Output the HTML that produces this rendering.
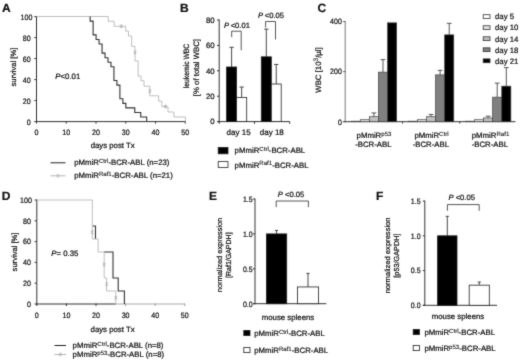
<!DOCTYPE html>
<html lang="en">
<head>
<meta charset="utf-8">
<title>Figure</title>
<style>
html,body{margin:0;padding:0;background:#fff;}
body{width:520px;height:363px;overflow:hidden;}
svg{display:block;}
svg text{font-family:"Liberation Sans",Arial,Helvetica,sans-serif;font-size:7.8px;fill:#111;stroke:#111;stroke-width:0.22px;text-rendering:geometricPrecision;}
</style>
</head>
<body>
<svg width="520" height="363" viewBox="0 0 520 363">
<defs>
<filter id="soft" x="0" y="0" width="100%" height="100%" color-interpolation-filters="sRGB">
<feConvolveMatrix order="3" kernelMatrix="0.025 0.08 0.025 0.08 0.58 0.08 0.025 0.08 0.025" edgeMode="duplicate" preserveAlpha="true"/>
</filter>
</defs>
<g filter="url(#soft)">
<rect x="0" y="0" width="520" height="363" fill="#ffffff"/>
<line x1="36.50" y1="16.10" x2="36.50" y2="122.10" stroke="#333" stroke-width="1"/>
<line x1="36.50" y1="121.60" x2="185.25" y2="121.60" stroke="#333" stroke-width="1"/>
<line x1="34.30" y1="121.60" x2="36.50" y2="121.60" stroke="#333" stroke-width="1"/>
<text transform="translate(30.70 124.85) scale(0.91 1)" text-anchor="end">0</text>
<line x1="34.30" y1="100.60" x2="36.50" y2="100.60" stroke="#333" stroke-width="1"/>
<text transform="translate(30.70 103.85) scale(0.91 1)" text-anchor="end">20</text>
<line x1="34.30" y1="79.60" x2="36.50" y2="79.60" stroke="#333" stroke-width="1"/>
<text transform="translate(30.70 82.85) scale(0.91 1)" text-anchor="end">40</text>
<line x1="34.30" y1="58.60" x2="36.50" y2="58.60" stroke="#333" stroke-width="1"/>
<text transform="translate(30.70 61.85) scale(0.91 1)" text-anchor="end">60</text>
<line x1="34.30" y1="37.60" x2="36.50" y2="37.60" stroke="#333" stroke-width="1"/>
<text transform="translate(30.70 40.85) scale(0.91 1)" text-anchor="end">80</text>
<line x1="34.30" y1="16.60" x2="36.50" y2="16.60" stroke="#333" stroke-width="1"/>
<text transform="translate(32.40 19.85) scale(0.91 1)" text-anchor="end">100</text>
<line x1="36.50" y1="121.10" x2="36.50" y2="123.60" stroke="#333" stroke-width="1"/>
<text transform="translate(36.50 135.20) scale(0.91 1)" text-anchor="middle">0</text>
<line x1="66.25" y1="121.10" x2="66.25" y2="123.60" stroke="#333" stroke-width="1"/>
<text transform="translate(66.25 135.20) scale(0.91 1)" text-anchor="middle">10</text>
<line x1="96.00" y1="121.10" x2="96.00" y2="123.60" stroke="#333" stroke-width="1"/>
<text transform="translate(96.00 135.20) scale(0.91 1)" text-anchor="middle">20</text>
<line x1="125.75" y1="121.10" x2="125.75" y2="123.60" stroke="#333" stroke-width="1"/>
<text transform="translate(125.75 135.20) scale(0.91 1)" text-anchor="middle">30</text>
<line x1="155.50" y1="121.10" x2="155.50" y2="123.60" stroke="#333" stroke-width="1"/>
<text transform="translate(155.50 135.20) scale(0.91 1)" text-anchor="middle">40</text>
<line x1="185.25" y1="121.10" x2="185.25" y2="123.60" stroke="#333" stroke-width="1"/>
<text transform="translate(185.25 135.20) scale(0.91 1)" text-anchor="middle">50</text>
<text x="112.66" y="147.80" text-anchor="middle">days post Tx</text>
<text transform="translate(16.20 67.10) rotate(-90)" text-anchor="middle" style="font-size:7.6px">survival [%]</text>
<text x="2.10" y="11.80" style="font-size:12px" font-weight="bold" fill="#000">A</text>
<text x="55.30" y="78.60"><tspan font-style="italic">P</tspan>&lt;0.01</text>
<polyline points="36.50,16.50 108.30,16.50 108.30,21.30 114.10,21.30 114.10,26.30 125.70,26.30 125.70,31.10 128.50,31.10 128.50,36.00 131.70,36.00 131.70,46.40 135.00,46.40 135.00,61.00 138.10,61.00 138.10,76.10 141.00,76.10 141.00,80.70 144.00,80.70 144.00,86.20 149.80,86.20 149.80,95.80 158.70,95.80 158.70,101.20 161.90,101.20 161.90,106.60 168.00,106.60 168.00,112.00 173.90,112.00 173.90,117.00 185.40,117.00 185.40,121.60" fill="none" stroke="#b4b4b4" stroke-width="0.85" stroke-linejoin="miter"/>
<line x1="120.00" y1="24.70" x2="122.60" y2="27.90" stroke="#b0b0b0" stroke-width="0.8"/>
<line x1="120.00" y1="27.90" x2="122.60" y2="24.70" stroke="#b0b0b0" stroke-width="0.8"/>
<line x1="121.30" y1="24.30" x2="121.30" y2="28.30" stroke="#b0b0b0" stroke-width="0.8"/>
<line x1="133.70" y1="50.90" x2="136.30" y2="54.10" stroke="#b0b0b0" stroke-width="0.8"/>
<line x1="133.70" y1="54.10" x2="136.30" y2="50.90" stroke="#b0b0b0" stroke-width="0.8"/>
<line x1="135.00" y1="50.50" x2="135.00" y2="54.50" stroke="#b0b0b0" stroke-width="0.8"/>
<line x1="148.50" y1="89.40" x2="151.10" y2="92.60" stroke="#b0b0b0" stroke-width="0.8"/>
<line x1="148.50" y1="92.60" x2="151.10" y2="89.40" stroke="#b0b0b0" stroke-width="0.8"/>
<line x1="149.80" y1="89.00" x2="149.80" y2="93.00" stroke="#b0b0b0" stroke-width="0.8"/>
<line x1="164.20" y1="105.00" x2="166.80" y2="108.20" stroke="#b0b0b0" stroke-width="0.8"/>
<line x1="164.20" y1="108.20" x2="166.80" y2="105.00" stroke="#b0b0b0" stroke-width="0.8"/>
<line x1="165.50" y1="104.60" x2="165.50" y2="108.60" stroke="#b0b0b0" stroke-width="0.8"/>
<polyline points="90.15,16.60 90.15,16.60 90.15,21.17 93.12,21.17 93.12,34.86 96.10,34.86 96.10,39.43 99.07,39.43 99.07,43.99 102.05,43.99 102.05,53.12 105.02,53.12 105.02,57.69 108.00,57.69 108.00,62.25 110.97,62.25 110.97,66.82 113.95,66.82 113.95,80.51 116.92,80.51 116.92,85.08 119.90,85.08 119.90,98.77 122.88,98.77 122.88,103.34 125.85,103.34 125.85,107.90 134.78,107.90 134.78,112.47 140.72,112.47 140.72,117.03 146.67,117.03 146.67,121.60" fill="none" stroke="#333" stroke-width="1.1" stroke-linejoin="miter"/>
<line x1="50.50" y1="162.80" x2="65.50" y2="162.80" stroke="#222" stroke-width="1"/>
<text x="74.20" y="165.40">pMmiR<tspan font-size="6.1" stroke-width="0.1" dy="-2.3">Ctrl</tspan><tspan dy="2.3">-BCR-ABL (n=23)</tspan></text>
<line x1="50.50" y1="175.80" x2="65.50" y2="175.80" stroke="#b4b4b4" stroke-width="1"/>
<line x1="56.50" y1="174.30" x2="59.50" y2="177.30" stroke="#b4b4b4" stroke-width="0.7"/>
<line x1="56.50" y1="177.30" x2="59.50" y2="174.30" stroke="#b4b4b4" stroke-width="0.7"/>
<line x1="58.00" y1="173.80" x2="58.00" y2="177.80" stroke="#b4b4b4" stroke-width="0.7"/>
<text x="74.20" y="178.40">pMmiR<tspan font-size="6.1" stroke-width="0.1" dy="-2.3">Raf1</tspan><tspan dy="2.3">-BCR-ABL (n=21)</tspan></text>
<line x1="36.80" y1="199.50" x2="36.80" y2="304.50" stroke="#333" stroke-width="1"/>
<line x1="36.80" y1="304.00" x2="115.83" y2="304.00" stroke="#333" stroke-width="1"/>
<line x1="115.83" y1="304.00" x2="184.80" y2="304.00" stroke="#aaa" stroke-width="1"/>
<line x1="34.60" y1="304.00" x2="36.80" y2="304.00" stroke="#333" stroke-width="1"/>
<text transform="translate(31.00 306.80) scale(0.91 1)" text-anchor="end">0</text>
<line x1="34.60" y1="283.20" x2="36.80" y2="283.20" stroke="#333" stroke-width="1"/>
<text transform="translate(31.00 286.00) scale(0.91 1)" text-anchor="end">20</text>
<line x1="34.60" y1="262.40" x2="36.80" y2="262.40" stroke="#333" stroke-width="1"/>
<text transform="translate(31.00 265.20) scale(0.91 1)" text-anchor="end">40</text>
<line x1="34.60" y1="241.60" x2="36.80" y2="241.60" stroke="#333" stroke-width="1"/>
<text transform="translate(31.00 244.40) scale(0.91 1)" text-anchor="end">60</text>
<line x1="34.60" y1="220.80" x2="36.80" y2="220.80" stroke="#333" stroke-width="1"/>
<text transform="translate(31.00 223.60) scale(0.91 1)" text-anchor="end">80</text>
<line x1="34.60" y1="200.00" x2="36.80" y2="200.00" stroke="#333" stroke-width="1"/>
<text transform="translate(31.90 202.80) scale(0.91 1)" text-anchor="end">100</text>
<line x1="36.80" y1="303.50" x2="36.80" y2="306.00" stroke="#333" stroke-width="1"/>
<text transform="translate(36.80 318.00) scale(0.91 1)" text-anchor="middle">0</text>
<line x1="66.40" y1="303.50" x2="66.40" y2="306.00" stroke="#333" stroke-width="1"/>
<text transform="translate(66.40 318.00) scale(0.91 1)" text-anchor="middle">10</text>
<line x1="96.00" y1="303.50" x2="96.00" y2="306.00" stroke="#333" stroke-width="1"/>
<text transform="translate(96.00 318.00) scale(0.91 1)" text-anchor="middle">20</text>
<line x1="125.60" y1="303.50" x2="125.60" y2="306.00" stroke="#999" stroke-width="1"/>
<text transform="translate(125.60 318.00) scale(0.91 1)" text-anchor="middle">30</text>
<line x1="155.20" y1="303.50" x2="155.20" y2="306.00" stroke="#999" stroke-width="1"/>
<text transform="translate(155.20 318.00) scale(0.91 1)" text-anchor="middle">40</text>
<line x1="184.80" y1="303.50" x2="184.80" y2="306.00" stroke="#999" stroke-width="1"/>
<text transform="translate(184.80 318.00) scale(0.91 1)" text-anchor="middle">50</text>
<text x="112.58" y="331.80" text-anchor="middle">days post Tx</text>
<text transform="translate(16.50 252.00) rotate(-90)" text-anchor="middle" style="font-size:7.6px">survival [%]</text>
<text x="1.80" y="199.50" style="font-size:12px" font-weight="bold" fill="#000">D</text>
<text x="51.30" y="256.20"><tspan font-style="italic">P</tspan>= 0.35</text>
<polyline points="92.50,226.00 95.50,226.00 95.50,239.00" fill="none" stroke="#333" stroke-width="1.1" stroke-linejoin="miter"/>
<polyline points="104.20,252.00 113.00,252.00 113.00,278.00 118.20,278.00 118.20,291.00 124.40,291.00 124.40,304.00" fill="none" stroke="#333" stroke-width="1.1" stroke-linejoin="miter"/>
<polyline points="36.80,200.00 92.30,200.00 92.30,239.00 98.10,239.00 98.10,252.00 104.20,252.00 104.20,278.00 106.60,278.00 106.60,291.00 115.80,291.00 115.80,304.00" fill="none" stroke="#b4b4b4" stroke-width="0.85" stroke-linejoin="miter"/>
<line x1="91.00" y1="230.64" x2="93.60" y2="233.84" stroke="#b0b0b0" stroke-width="0.8"/>
<line x1="91.00" y1="233.84" x2="93.60" y2="230.64" stroke="#b0b0b0" stroke-width="0.8"/>
<line x1="92.30" y1="230.24" x2="92.30" y2="234.24" stroke="#b0b0b0" stroke-width="0.8"/>
<line x1="102.90" y1="262.88" x2="105.50" y2="266.08" stroke="#b0b0b0" stroke-width="0.8"/>
<line x1="102.90" y1="266.08" x2="105.50" y2="262.88" stroke="#b0b0b0" stroke-width="0.8"/>
<line x1="104.20" y1="262.48" x2="104.20" y2="266.48" stroke="#b0b0b0" stroke-width="0.8"/>
<line x1="105.30" y1="282.64" x2="107.90" y2="285.84" stroke="#b0b0b0" stroke-width="0.8"/>
<line x1="105.30" y1="285.84" x2="107.90" y2="282.64" stroke="#b0b0b0" stroke-width="0.8"/>
<line x1="106.60" y1="282.24" x2="106.60" y2="286.24" stroke="#b0b0b0" stroke-width="0.8"/>
<line x1="114.50" y1="296.16" x2="117.10" y2="299.36" stroke="#b0b0b0" stroke-width="0.8"/>
<line x1="114.50" y1="299.36" x2="117.10" y2="296.16" stroke="#b0b0b0" stroke-width="0.8"/>
<line x1="115.80" y1="295.76" x2="115.80" y2="299.76" stroke="#b0b0b0" stroke-width="0.8"/>
<line x1="54.50" y1="345.50" x2="66.00" y2="345.50" stroke="#222" stroke-width="1"/>
<text x="72.60" y="348.10">pMmiR<tspan font-size="6.1" stroke-width="0.1" dy="-2.3">Ctrl</tspan><tspan dy="2.3">-BCR-ABL (n=8)</tspan></text>
<line x1="54.50" y1="354.50" x2="66.00" y2="354.50" stroke="#b4b4b4" stroke-width="1"/>
<line x1="58.75" y1="353.00" x2="61.75" y2="356.00" stroke="#b4b4b4" stroke-width="0.7"/>
<line x1="58.75" y1="356.00" x2="61.75" y2="353.00" stroke="#b4b4b4" stroke-width="0.7"/>
<line x1="60.25" y1="352.50" x2="60.25" y2="356.50" stroke="#b4b4b4" stroke-width="0.7"/>
<text x="72.60" y="357.10">pMmiR<tspan font-size="6.1" stroke-width="0.1" dy="-2.3">p53</tspan><tspan dy="2.3">-BCR-ABL  (n=8)</tspan></text>
<line x1="219.20" y1="19.50" x2="219.20" y2="122.10" stroke="#333" stroke-width="1"/>
<line x1="217.00" y1="121.60" x2="289.70" y2="121.60" stroke="#333" stroke-width="1"/>
<line x1="217.00" y1="121.60" x2="219.20" y2="121.60" stroke="#333" stroke-width="1"/>
<text x="214.60" y="124.40" text-anchor="end">0</text>
<line x1="217.00" y1="96.20" x2="219.20" y2="96.20" stroke="#333" stroke-width="1"/>
<text x="214.60" y="99.00" text-anchor="end">20</text>
<line x1="217.00" y1="70.80" x2="219.20" y2="70.80" stroke="#333" stroke-width="1"/>
<text x="214.60" y="73.60" text-anchor="end">40</text>
<line x1="217.00" y1="45.40" x2="219.20" y2="45.40" stroke="#333" stroke-width="1"/>
<text x="214.60" y="48.20" text-anchor="end">60</text>
<line x1="217.00" y1="20.00" x2="219.20" y2="20.00" stroke="#333" stroke-width="1"/>
<text x="214.60" y="22.80" text-anchor="end">80</text>
<line x1="219.20" y1="121.60" x2="219.20" y2="123.80" stroke="#333" stroke-width="1"/>
<line x1="254.50" y1="121.60" x2="254.50" y2="123.80" stroke="#333" stroke-width="1"/>
<line x1="289.70" y1="121.60" x2="289.70" y2="123.80" stroke="#333" stroke-width="1"/>
<line x1="231.60" y1="47.30" x2="231.60" y2="66.99" stroke="#333" stroke-width="0.9"/>
<line x1="229.40" y1="47.30" x2="233.80" y2="47.30" stroke="#333" stroke-width="0.9"/>
<rect x="226.60" y="66.99" width="10.00" height="54.61" fill="#000" stroke="#222" stroke-width="0.8"/>
<line x1="241.65" y1="87.06" x2="241.65" y2="97.47" stroke="#333" stroke-width="0.9"/>
<line x1="239.45" y1="87.06" x2="243.85" y2="87.06" stroke="#333" stroke-width="0.9"/>
<rect x="236.60" y="97.47" width="10.10" height="24.13" fill="#fff" stroke="#222" stroke-width="0.8"/>
<line x1="266.30" y1="29.14" x2="266.30" y2="56.83" stroke="#333" stroke-width="0.9"/>
<line x1="264.10" y1="29.14" x2="268.50" y2="29.14" stroke="#333" stroke-width="0.9"/>
<rect x="261.30" y="56.83" width="10.00" height="64.77" fill="#000" stroke="#222" stroke-width="0.8"/>
<line x1="276.25" y1="64.45" x2="276.25" y2="84.01" stroke="#333" stroke-width="0.9"/>
<line x1="274.05" y1="64.45" x2="278.45" y2="64.45" stroke="#333" stroke-width="0.9"/>
<rect x="271.30" y="84.01" width="9.90" height="37.59" fill="#fff" stroke="#222" stroke-width="0.8"/>
<polyline points="231.70,37.20 231.70,31.20 241.20,31.20 241.20,50.30" fill="none" stroke="#444" stroke-width="0.9" stroke-linejoin="miter"/>
<polyline points="265.60,27.50 265.60,21.50 275.50,21.50 275.50,39.50" fill="none" stroke="#444" stroke-width="0.9" stroke-linejoin="miter"/>
<text x="224.00" y="28.00" style="font-size:7.6px"><tspan font-style="italic">P</tspan><tspan dx="1.6">&lt;0.01</tspan></text>
<text x="258.10" y="18.10" style="font-size:7.6px"><tspan font-style="italic">P</tspan><tspan dx="1.6">&lt;0.05</tspan></text>
<text x="238.60" y="134.60" text-anchor="middle" style="font-size:8px">day 15</text>
<text x="271.80" y="134.60" text-anchor="middle" style="font-size:8px">day 18</text>
<text transform="translate(189.30 66.00) rotate(-90) scale(0.87 1)" text-anchor="middle">leukemic WBC</text>
<text transform="translate(199.00 67.60) rotate(-90)" text-anchor="middle">[% of total WBC]</text>
<text x="179.90" y="11.80" style="font-size:12px" font-weight="bold" fill="#000">B</text>
<rect x="218.20" y="147.40" width="9.80" height="6.40" fill="#000" stroke="#222" stroke-width="0.8"/>
<rect x="218.20" y="161.60" width="9.80" height="5.80" fill="#fff" stroke="#222" stroke-width="0.8"/>
<text x="234.60" y="153.40">pMmiR<tspan font-size="6.1" stroke-width="0.1" dy="-2.3">Ctrl</tspan><tspan dy="2.3">-BCR-ABL</tspan></text>
<text x="234.60" y="167.60">pMmiR<tspan font-size="6.1" stroke-width="0.1" dy="-2.3">Raf1</tspan><tspan dy="2.3">-BCR-ABL</tspan></text>
<line x1="345.20" y1="21.08" x2="345.20" y2="122.20" stroke="#777" stroke-width="1"/>
<line x1="343.20" y1="121.70" x2="515.50" y2="121.70" stroke="#333" stroke-width="1"/>
<line x1="343.20" y1="121.70" x2="345.20" y2="121.70" stroke="#555" stroke-width="1"/>
<text transform="translate(341.80 124.50) scale(0.9 1)" text-anchor="end">0</text>
<line x1="343.20" y1="71.64" x2="345.20" y2="71.64" stroke="#555" stroke-width="1"/>
<text transform="translate(341.80 74.44) scale(0.9 1)" text-anchor="end">200</text>
<line x1="343.20" y1="21.58" x2="345.20" y2="21.58" stroke="#555" stroke-width="1"/>
<text transform="translate(341.80 24.38) scale(0.9 1)" text-anchor="end">400</text>
<line x1="402.50" y1="121.70" x2="402.50" y2="123.50" stroke="#333" stroke-width="1"/>
<line x1="459.70" y1="121.70" x2="459.70" y2="123.50" stroke="#333" stroke-width="1"/>
<rect x="351.20" y="121.20" width="9.09" height="0.50" fill="#fff" stroke="#444" stroke-width="0.7"/>
<rect x="360.29" y="119.70" width="9.09" height="2.00" fill="#e2e2e2" stroke="#444" stroke-width="0.7"/>
<line x1="373.93" y1="112.94" x2="373.93" y2="116.69" stroke="#444" stroke-width="0.9"/>
<line x1="371.53" y1="112.94" x2="376.32" y2="112.94" stroke="#444" stroke-width="0.9"/>
<rect x="369.38" y="116.69" width="9.09" height="5.01" fill="#c0c0c0" stroke="#444" stroke-width="0.7"/>
<line x1="383.01" y1="59.63" x2="383.01" y2="72.14" stroke="#444" stroke-width="0.9"/>
<line x1="380.62" y1="59.63" x2="385.41" y2="59.63" stroke="#444" stroke-width="0.9"/>
<rect x="378.47" y="72.14" width="9.09" height="49.56" fill="#808080" stroke="#444" stroke-width="0.7"/>
<rect x="387.56" y="22.83" width="9.09" height="98.87" fill="#000" stroke="#444" stroke-width="0.7"/>
<rect x="408.30" y="121.20" width="9.09" height="0.50" fill="#fff" stroke="#444" stroke-width="0.7"/>
<rect x="417.39" y="119.70" width="9.09" height="2.00" fill="#e2e2e2" stroke="#444" stroke-width="0.7"/>
<line x1="431.03" y1="114.44" x2="431.03" y2="116.69" stroke="#444" stroke-width="0.9"/>
<line x1="428.63" y1="114.44" x2="433.43" y2="114.44" stroke="#444" stroke-width="0.9"/>
<rect x="426.48" y="116.69" width="9.09" height="5.01" fill="#c0c0c0" stroke="#444" stroke-width="0.7"/>
<line x1="440.12" y1="70.39" x2="440.12" y2="74.89" stroke="#444" stroke-width="0.9"/>
<line x1="437.72" y1="70.39" x2="442.51" y2="70.39" stroke="#444" stroke-width="0.9"/>
<rect x="435.57" y="74.89" width="9.09" height="46.81" fill="#808080" stroke="#444" stroke-width="0.7"/>
<line x1="449.21" y1="23.33" x2="449.21" y2="34.85" stroke="#444" stroke-width="0.9"/>
<line x1="446.81" y1="23.33" x2="451.61" y2="23.33" stroke="#444" stroke-width="0.9"/>
<rect x="444.66" y="34.85" width="9.09" height="86.85" fill="#000" stroke="#444" stroke-width="0.7"/>
<rect x="465.40" y="121.20" width="9.09" height="0.50" fill="#fff" stroke="#444" stroke-width="0.7"/>
<rect x="474.49" y="119.70" width="9.09" height="2.00" fill="#e2e2e2" stroke="#444" stroke-width="0.7"/>
<line x1="488.12" y1="116.19" x2="488.12" y2="117.95" stroke="#444" stroke-width="0.9"/>
<line x1="485.73" y1="116.19" x2="490.52" y2="116.19" stroke="#444" stroke-width="0.9"/>
<rect x="483.58" y="117.95" width="9.09" height="3.75" fill="#c0c0c0" stroke="#444" stroke-width="0.7"/>
<line x1="497.21" y1="83.15" x2="497.21" y2="97.17" stroke="#444" stroke-width="0.9"/>
<line x1="494.81" y1="83.15" x2="499.61" y2="83.15" stroke="#444" stroke-width="0.9"/>
<rect x="492.67" y="97.17" width="9.09" height="24.53" fill="#808080" stroke="#444" stroke-width="0.7"/>
<line x1="506.31" y1="67.64" x2="506.31" y2="86.16" stroke="#444" stroke-width="0.9"/>
<line x1="503.91" y1="67.64" x2="508.70" y2="67.64" stroke="#444" stroke-width="0.9"/>
<rect x="501.76" y="86.16" width="9.09" height="35.54" fill="#000" stroke="#444" stroke-width="0.7"/>
<text x="374.00" y="137.80" text-anchor="middle">pMmiR<tspan font-size="6.1" stroke-width="0.1" dy="-2.3">p53</tspan><tspan dy="2.3"></tspan></text>
<text x="373.40" y="147.00" text-anchor="middle">-BCR-ABL</text>
<text x="431.50" y="137.80" text-anchor="middle">pMmiR<tspan font-size="6.1" stroke-width="0.1" dy="-2.3">Ctrl</tspan><tspan dy="2.3"></tspan></text>
<text x="430.90" y="147.00" text-anchor="middle">-BCR-ABL</text>
<text x="490.50" y="137.80" text-anchor="middle">pMmiR<tspan font-size="6.1" stroke-width="0.1" dy="-2.3">Raf1</tspan><tspan dy="2.3"></tspan></text>
<text x="489.90" y="147.00" text-anchor="middle">-BCR-ABL</text>
<text transform="translate(320.60 70.00) rotate(-90)" text-anchor="middle">WBC [10<tspan font-size="6.6" stroke-width="0.1" dy="-2.8">3</tspan><tspan dy="2.8">/µl]</tspan></text>
<text x="317.60" y="11.70" style="font-size:12px" font-weight="bold" fill="#000">C</text>
<rect x="483.20" y="14.70" width="6.80" height="3.80" fill="#fff" stroke="#333" stroke-width="0.8"/>
<text x="495.00" y="19.40">day 5</text>
<rect x="483.20" y="25.75" width="6.80" height="3.80" fill="#e2e2e2" stroke="#333" stroke-width="0.8"/>
<text x="495.00" y="30.45">day 10</text>
<rect x="483.20" y="36.80" width="6.80" height="3.80" fill="#c0c0c0" stroke="#333" stroke-width="0.8"/>
<text x="495.00" y="41.50">day 14</text>
<rect x="483.20" y="47.85" width="6.80" height="3.80" fill="#808080" stroke="#333" stroke-width="0.8"/>
<text x="495.00" y="52.55">day 18</text>
<rect x="483.20" y="58.90" width="6.80" height="3.80" fill="#000" stroke="#333" stroke-width="0.8"/>
<text x="495.00" y="63.60">day 21</text>
<line x1="255.00" y1="198.50" x2="255.00" y2="304.20" stroke="#333" stroke-width="1"/>
<line x1="253.00" y1="303.70" x2="326.30" y2="303.70" stroke="#333" stroke-width="1"/>
<line x1="253.00" y1="303.70" x2="255.00" y2="303.70" stroke="#333" stroke-width="1"/>
<text transform="translate(252.70 306.50) scale(0.9 1)" text-anchor="end">0.0</text>
<line x1="253.00" y1="268.80" x2="255.00" y2="268.80" stroke="#333" stroke-width="1"/>
<text transform="translate(252.70 271.60) scale(0.9 1)" text-anchor="end">0.5</text>
<line x1="253.00" y1="233.90" x2="255.00" y2="233.90" stroke="#333" stroke-width="1"/>
<text transform="translate(252.70 236.70) scale(0.9 1)" text-anchor="end">1.0</text>
<line x1="253.00" y1="199.00" x2="255.00" y2="199.00" stroke="#333" stroke-width="1"/>
<text transform="translate(252.70 201.80) scale(0.9 1)" text-anchor="end">1.5</text>
<line x1="276.55" y1="230.41" x2="276.55" y2="233.90" stroke="#333" stroke-width="0.9"/>
<line x1="274.95" y1="230.41" x2="278.15" y2="230.41" stroke="#333" stroke-width="0.9"/>
<rect x="266.40" y="233.90" width="20.30" height="69.80" fill="#000" stroke="#222" stroke-width="0.8"/>
<line x1="308.00" y1="273.34" x2="308.00" y2="286.95" stroke="#333" stroke-width="0.9"/>
<line x1="306.40" y1="273.34" x2="309.60" y2="273.34" stroke="#333" stroke-width="0.9"/>
<rect x="297.40" y="286.95" width="21.20" height="16.75" fill="#fff" stroke="#222" stroke-width="0.8"/>
<polyline points="276.20,207.20 276.20,201.00 308.40,201.00 308.40,207.20" fill="none" stroke="#444" stroke-width="0.9" stroke-linejoin="miter"/>
<text x="277.80" y="196.80" style="font-size:7.6px"><tspan font-style="italic">P</tspan> &lt;0.05</text>
<text x="288.00" y="320.00" text-anchor="middle">mouse spleens</text>
<text transform="translate(222.00 255.00) rotate(-90) scale(1.02 1)" text-anchor="middle" style="font-size:7.3px">normalized expression</text>
<text transform="translate(231.40 255.20) rotate(-90) scale(0.96 1)" text-anchor="middle" style="font-size:7.3px">[Raf1/GAPDH]</text>
<text x="208.90" y="199.80" style="font-size:12px" font-weight="bold" fill="#000">E</text>
<rect x="243.80" y="330.40" width="6.20" height="5.20" fill="#000" stroke="#222" stroke-width="0.8"/>
<rect x="243.80" y="347.40" width="6.20" height="5.20" fill="#fff" stroke="#222" stroke-width="0.8"/>
<text x="254.20" y="335.80">pMmiR<tspan font-size="6.1" stroke-width="0.1" dy="-2.3">Ctrl</tspan><tspan dy="2.3">-BCR-ABL</tspan></text>
<text x="254.20" y="352.80">pMmiR<tspan font-size="6.1" stroke-width="0.1" dy="-2.3">Raf1</tspan><tspan dy="2.3">-BCR-ABL</tspan></text>
<line x1="424.80" y1="200.55" x2="424.80" y2="305.80" stroke="#333" stroke-width="1"/>
<line x1="422.80" y1="305.30" x2="497.00" y2="305.30" stroke="#333" stroke-width="1"/>
<line x1="422.80" y1="305.30" x2="424.80" y2="305.30" stroke="#333" stroke-width="1"/>
<text transform="translate(420.60 308.10) scale(0.9 1)" text-anchor="end">0.0</text>
<line x1="422.80" y1="270.55" x2="424.80" y2="270.55" stroke="#333" stroke-width="1"/>
<text transform="translate(420.60 273.35) scale(0.9 1)" text-anchor="end">0.5</text>
<line x1="422.80" y1="235.80" x2="424.80" y2="235.80" stroke="#333" stroke-width="1"/>
<text transform="translate(420.60 238.60) scale(0.9 1)" text-anchor="end">1.0</text>
<line x1="422.80" y1="201.05" x2="424.80" y2="201.05" stroke="#333" stroke-width="1"/>
<text transform="translate(420.60 203.85) scale(0.9 1)" text-anchor="end">1.5</text>
<line x1="447.30" y1="216.34" x2="447.30" y2="235.80" stroke="#333" stroke-width="0.9"/>
<line x1="445.70" y1="216.34" x2="448.90" y2="216.34" stroke="#333" stroke-width="0.9"/>
<rect x="437.60" y="235.80" width="19.40" height="69.50" fill="#000" stroke="#222" stroke-width="0.8"/>
<line x1="479.25" y1="282.02" x2="479.25" y2="285.15" stroke="#333" stroke-width="0.9"/>
<line x1="477.65" y1="282.02" x2="480.85" y2="282.02" stroke="#333" stroke-width="0.9"/>
<rect x="469.20" y="285.15" width="20.10" height="20.15" fill="#fff" stroke="#222" stroke-width="0.8"/>
<polyline points="447.40,210.80 447.40,204.60 479.20,204.60 479.20,210.80" fill="none" stroke="#444" stroke-width="0.9" stroke-linejoin="miter"/>
<text x="448.50" y="199.50" style="font-size:7.6px"><tspan font-style="italic">P</tspan> &lt;0.05</text>
<text x="458.00" y="319.30" text-anchor="middle">mouse spleens</text>
<text transform="translate(389.90 255.40) rotate(-90) scale(1.04 1)" text-anchor="middle" style="font-size:7.3px">normalized expression</text>
<text transform="translate(399.40 255.60) rotate(-90) scale(1.0 1)" text-anchor="middle" style="font-size:7.3px">[p53/GAPDH]</text>
<text x="375.90" y="199.80" style="font-size:12px" font-weight="bold" fill="#000">F</text>
<rect x="413.20" y="329.40" width="6.20" height="5.20" fill="#000" stroke="#222" stroke-width="0.8"/>
<rect x="413.20" y="345.40" width="6.20" height="5.20" fill="#fff" stroke="#222" stroke-width="0.8"/>
<text x="424.40" y="334.80">pMmiR<tspan font-size="6.1" stroke-width="0.1" dy="-2.3">Ctrl</tspan><tspan dy="2.3">-BCR-ABL</tspan></text>
<text x="424.40" y="350.80">pMmiR<tspan font-size="6.1" stroke-width="0.1" dy="-2.3">p53</tspan><tspan dy="2.3">-BCR-ABL</tspan></text>
</g>
</svg>
</body>
</html>
